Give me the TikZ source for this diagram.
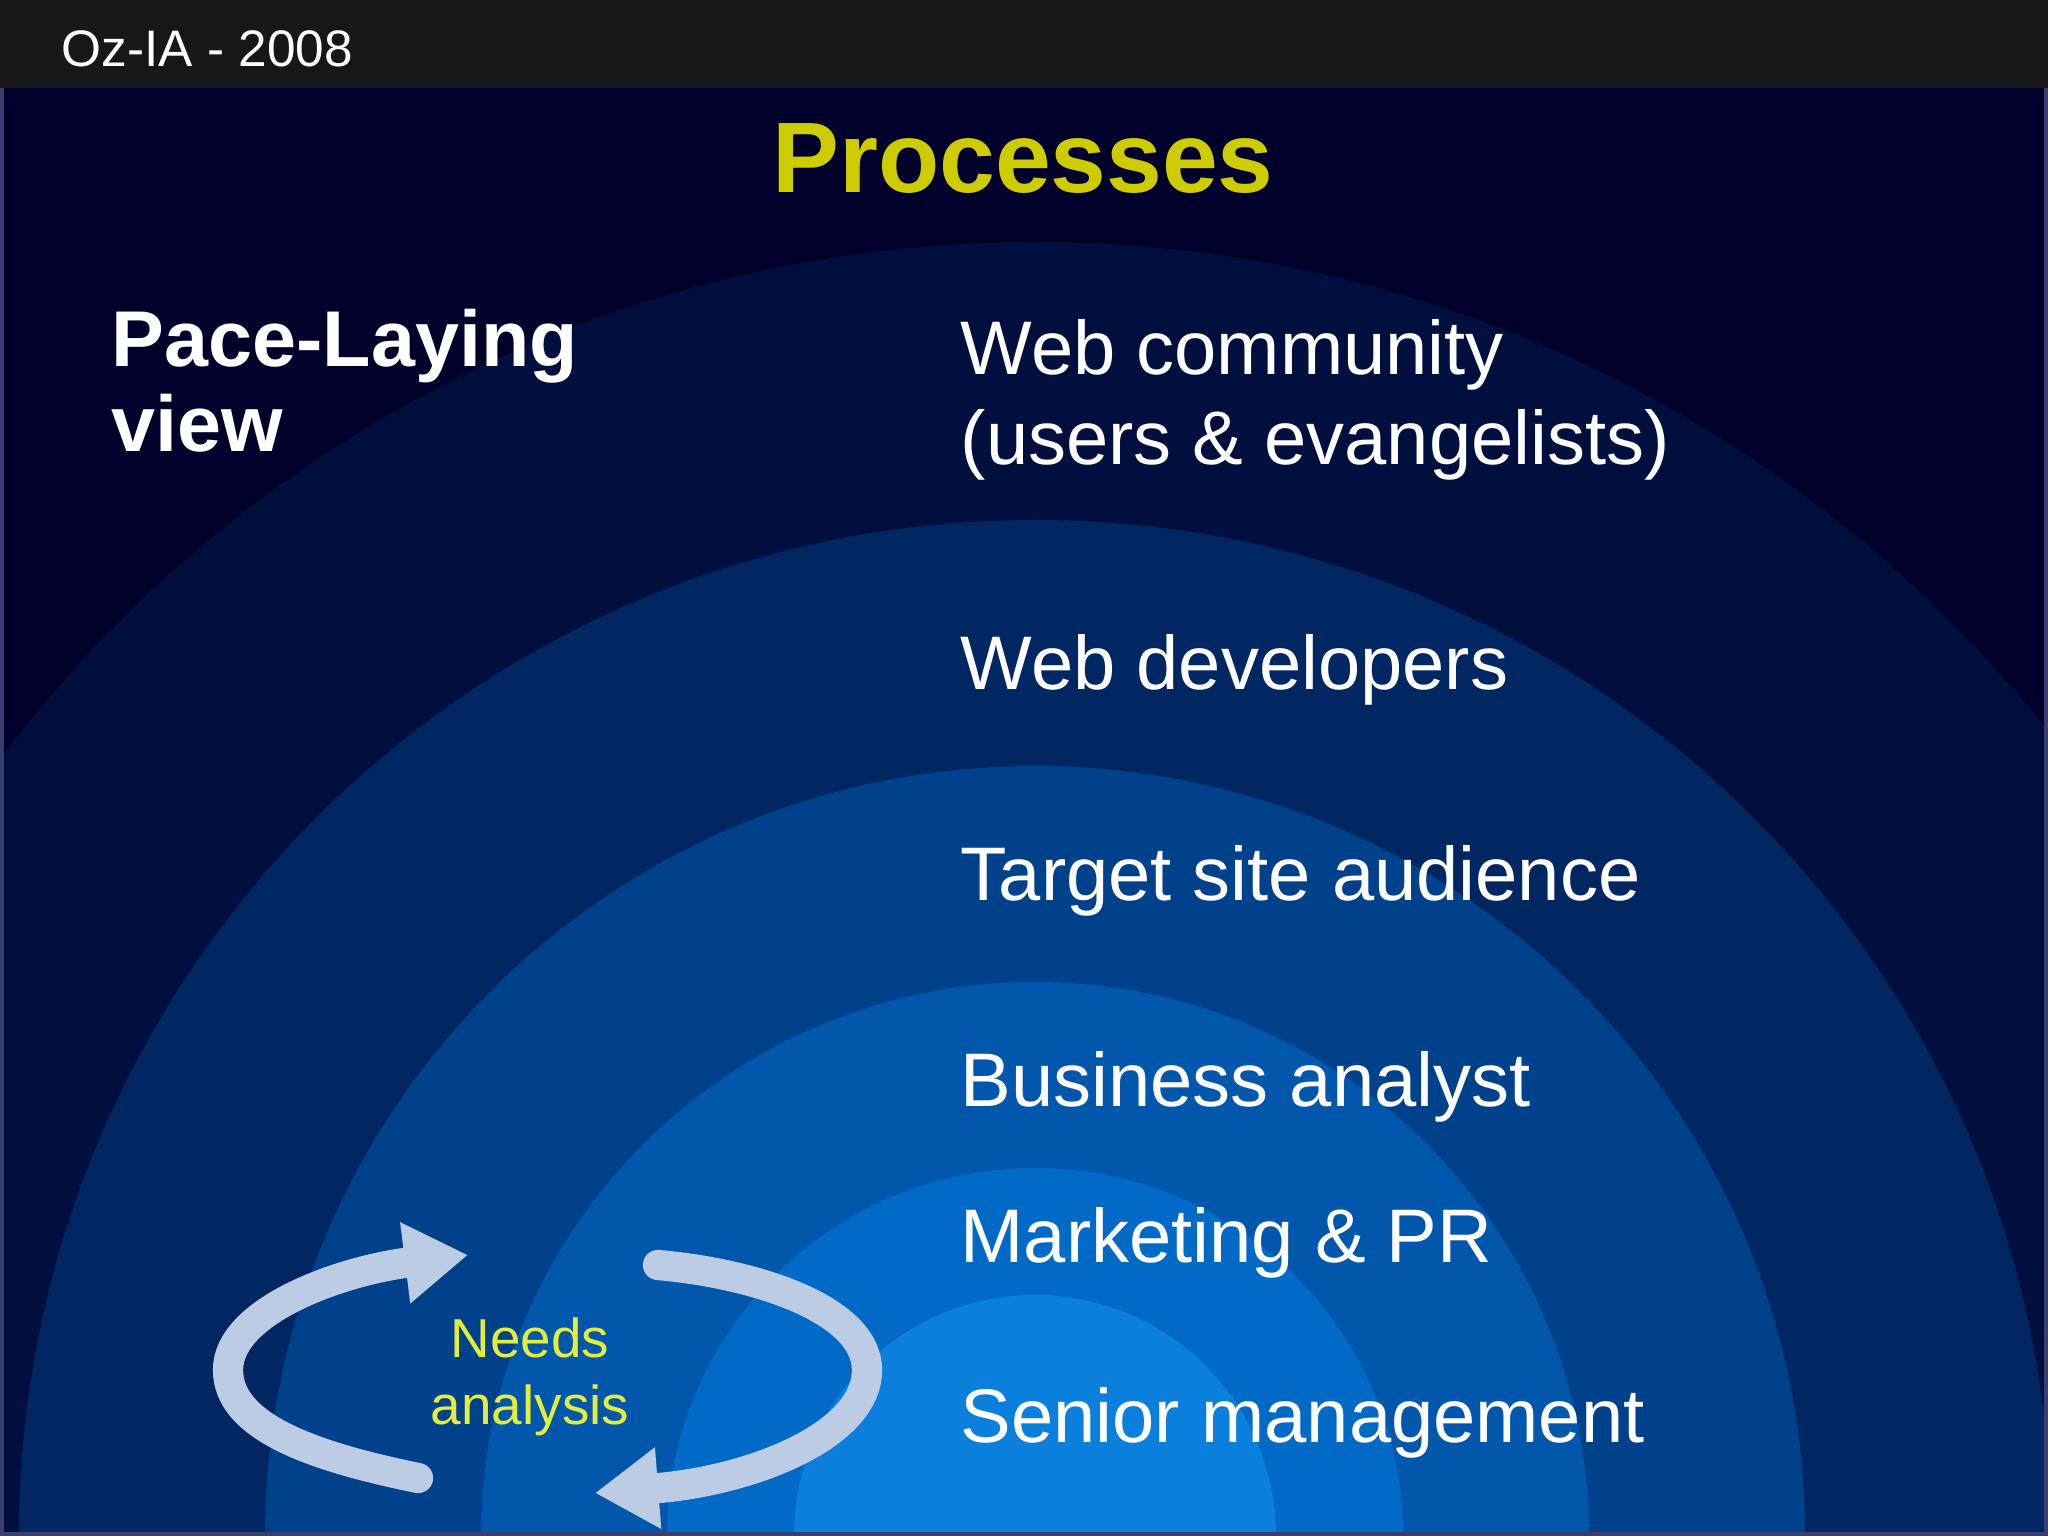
\documentclass[tikz,border=0pt]{standalone}
\usepackage{fontspec}
\setmainfont{Liberation Sans}
\usetikzlibrary{arrows.meta,positioning}
\definecolor{barblack}{HTML}{181618}
\definecolor{nightnavy}{HTML}{00002A}
\definecolor{ringa}{HTML}{000F3E}
\definecolor{ringb}{HTML}{002762}
\definecolor{ringc}{HTML}{00418C}
\definecolor{ringd}{HTML}{0057AC}
\definecolor{ringe}{HTML}{006AC6}
\definecolor{ringf}{HTML}{0A80DC}
\definecolor{titleyellow}{HTML}{CCCC00}
\definecolor{needsyellow}{HTML}{E4EE3A}
\definecolor{loopgrey}{HTML}{BCCCE4}
\definecolor{framegrey}{HTML}{3A3E6E}
\tikzset{
  % texter
  layer/.style={anchor=base west,inner sep=0pt,text=white,
                font=\fontsize{21.6}{25}\selectfont},
  heading/.style={anchor=base west,inner sep=0pt,text=white,
                  font=\fontsize{22.5}{24}\selectfont\bfseries},
  needs/.style={anchor=base,inner sep=0pt,text=needsyellow,
                font=\fontsize{15.6}{19}\selectfont},
  % pilar
  loop/.style={draw=loopgrey,line width=8.6pt,line cap=round,
               -{Triangle[length=18pt,width=22pt]}},
}

\begin{document}
\begin{tikzpicture}[x=0.01cm,y=0.01cm]
\useasboundingbox (0,0) rectangle (2048,1536);
  \fill[nightnavy] (0,0) rectangle (2048,1448);
  \begin{scope}
    \clip (0,0) rectangle (2048,1448);
    \foreach \r/\c in {1294/ringa,1016/ringb,770/ringc,554/ringd,368/ringe,241/ringf}
      \fill[\c] (1035,0) circle (\r);
  \end{scope}
  \draw[framegrey,line width=2.4pt] (0,1448) -- (0,0) -- (2048,0) -- (2048,1448);
  \fill[barblack] (0,1448) rectangle (2048,1536);
  \node[anchor=base west,inner sep=0pt,text=white,
        font=\fontsize{14.6}{18}\selectfont] (conf) at (61,1469) {Oz-IA - 2008};
  \node[anchor=base,inner sep=0pt,text=titleyellow,
        font=\fontsize{28.5}{32}\selectfont\bfseries] (title) at (1023,1343) {Processes};
  \node[heading] (pace) at (111,1169) {Pace-Laying};
  \node[heading] (view) at (111,1084) {view};
  \node[layer] (community) at (960,1161) {Web community};
  \node[layer] (evang) at (960,1071) {(users \& evangelists)};
  \node[layer] (devs) at (960,846) {Web developers};
  \node[layer] (audience) at (960,635) {Target site audience};
  \node[layer] (analyst) at (960,429) {Business analyst};
  \node[layer] (marketing) at (960,273) {Marketing \& PR};
  \node[layer] (senior) at (960,93) {Senior management};
  \node[needs] (needs) at (530,178) {Needs};
  \node[needs] (analysis) at (530,111) {analysis};
  \coordinate (ltail) at (418,58);
  \coordinate (ltip) at (468,281);
  \coordinate (rtail) at (658,271);
  \coordinate (rtip) at (595,43);
  \draw[loop] (ltail) .. controls (310,80) and (228,110) .. (228,166)
              .. controls (228,225) and (340,265) .. (ltip);
  \draw[loop] (rtail) .. controls (760,262) and (867,225) .. (867,166)
              .. controls (867,100) and (750,55) .. (rtip);
\end{tikzpicture}
\end{document}
